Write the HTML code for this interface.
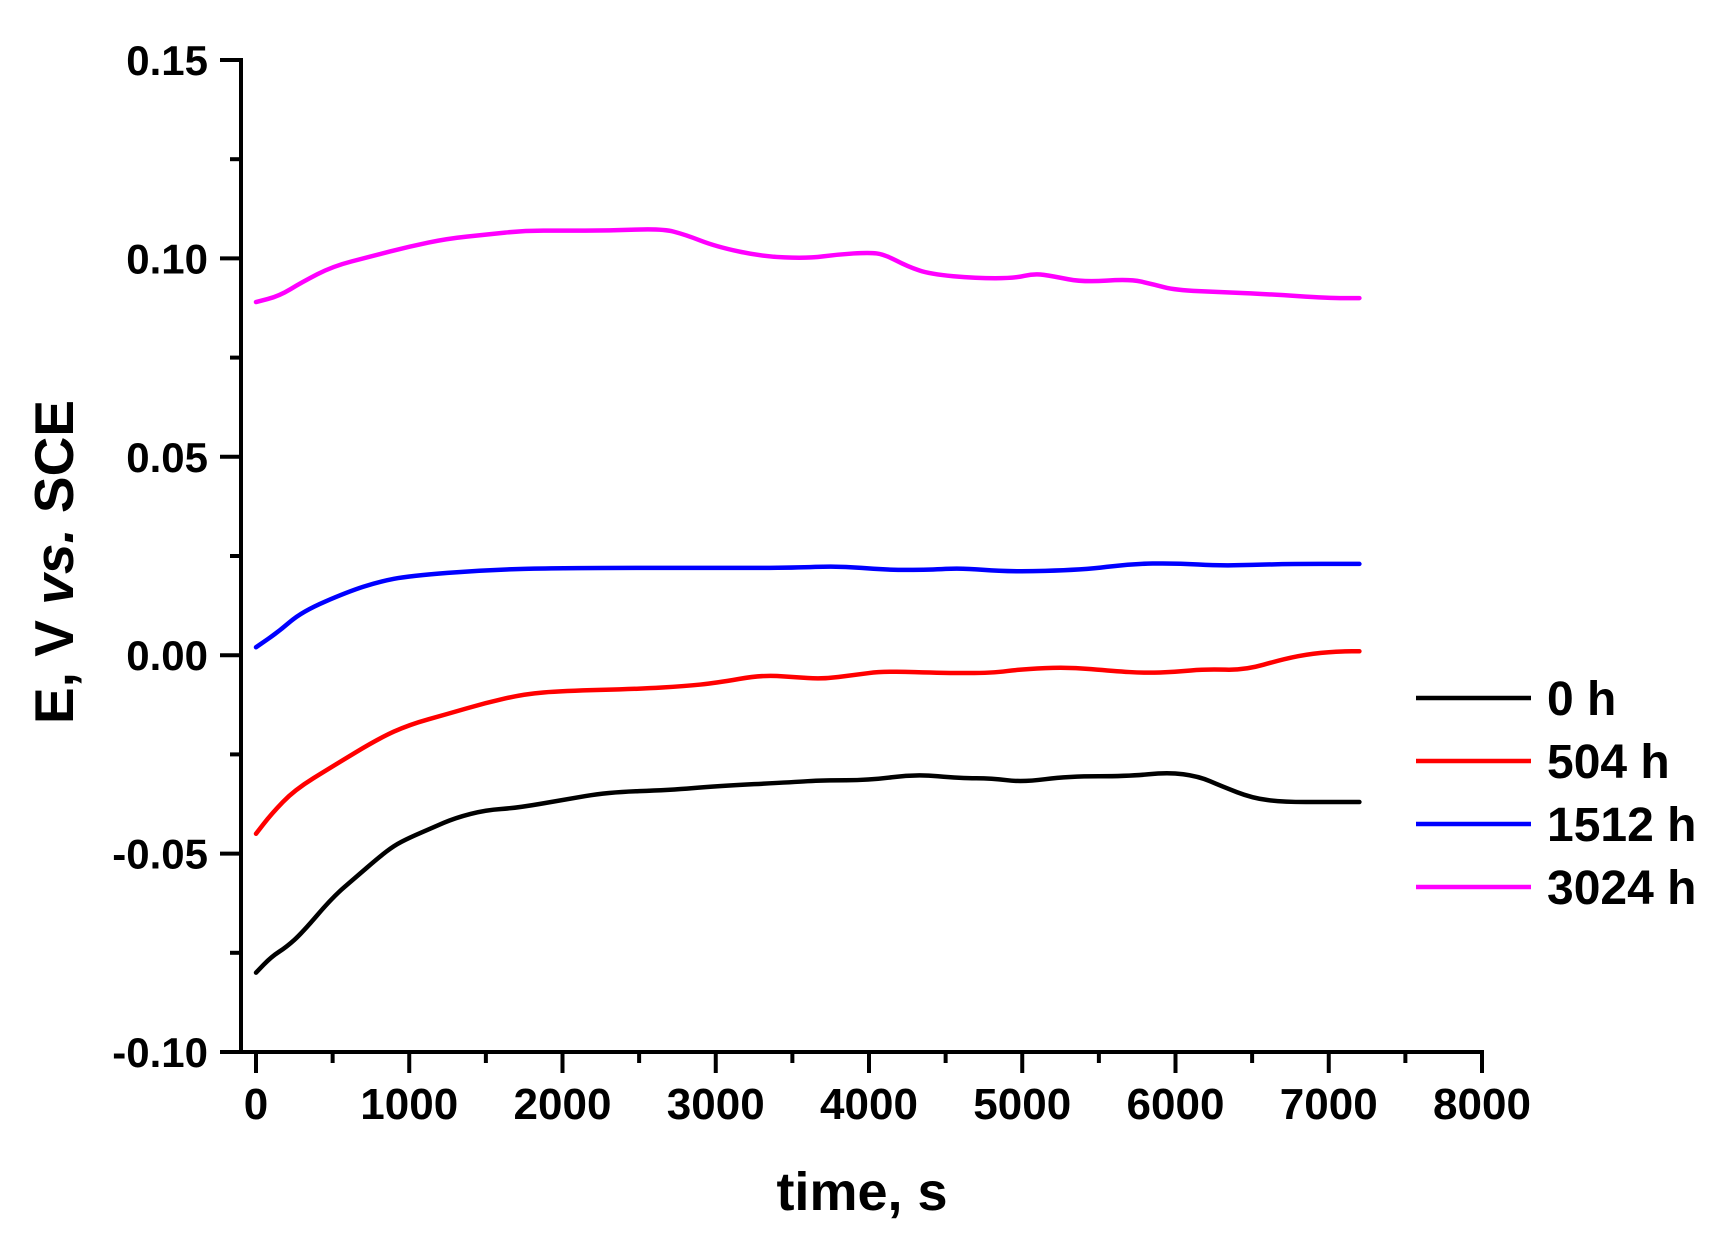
<!DOCTYPE html>
<html><head><meta charset="utf-8"><style>
html,body{margin:0;padding:0;background:#fff;}
svg{display:block;}
text{font-family:"Liberation Sans",Arial,sans-serif;font-weight:bold;fill:#000;}
</style></head><body>
<svg id="s" width="1721" height="1248" viewBox="0 0 1721 1248" xmlns="http://www.w3.org/2000/svg">
<g id="ax" stroke="#000" stroke-width="4" fill="none"></g>
<g id="lab"></g>
<g id="ser" fill="none" stroke-width="4.5" stroke-linejoin="round" stroke-linecap="round"></g>
<text x="862" y="1210" font-size="54" text-anchor="middle">time, s</text>
<text transform="translate(73,562) rotate(-90)" font-size="55" text-anchor="middle">E, V <tspan font-style="italic">vs.</tspan> SCE</text>
<g stroke-width="4.5">
<line x1="1416" y1="698" x2="1531" y2="698" stroke="#000"/>
<line x1="1416" y1="761" x2="1531" y2="761" stroke="#f00"/>
<line x1="1416" y1="824" x2="1531" y2="824" stroke="#00f"/>
<line x1="1416" y1="887" x2="1531" y2="887" stroke="#f0f"/>
</g>
<text x="1547" y="715" font-size="48">0 h</text>
<text x="1547" y="778" font-size="48">504 h</text>
<text x="1547" y="841" font-size="48">1512 h</text>
<text x="1547" y="904" font-size="48">3024 h</text>
</svg>
<script>
const NS="http://www.w3.org/2000/svg";
const X=t=>256+t/8000*1226, Y=v=>60+(0.15-v)/0.25*992;
function el(p,n,a){const e=document.createElementNS(NS,n);for(const k in a)e.setAttribute(k,a[k]);p.appendChild(e);return e;}
const ax=document.getElementById('ax'),lab=document.getElementById('lab'),ser=document.getElementById('ser');
el(ax,'line',{x1:241,y1:58,x2:241,y2:1052});
el(ax,'line',{x1:239,y1:1052,x2:1484,y2:1052});
for(let i=0;i<=10;i++){const v=0.15-i*0.025,y=Y(v),maj=i%2==0;
 el(ax,'line',{x1:maj?220:230,y1:y,x2:241,y2:y});
 if(maj){const t=el(lab,'text',{x:208,y:y+15,'font-size':42,'text-anchor':'end'});t.textContent=v.toFixed(2).replace('-0.00','0.00');}}
for(let i=0;i<=16;i++){const t=i*500,x=X(t),maj=i%2==0;
 el(ax,'line',{x1:x,y1:1052,x2:x,y2:maj?1073:1063});
 if(maj){const e=el(lab,'text',{x:x,y:1119,'font-size':44,'text-anchor':'middle'});e.textContent=t;}}
const D={
"#f0f":[[0,.089],[150,.0905],[300,.094],[500,.098],[750,.1005],[1000,.103],[1250,.105],[1500,.106],[1750,.107],[2000,.107],[2300,.107],[2650,.1075],[2800,.106],[3000,.103],[3300,.1005],[3600,.100],[3800,.101],[4000,.1015],[4100,.101],[4250,.098],[4400,.096],[4700,.095],[4950,.095],[5080,.0962],[5200,.0955],[5400,.094],[5700,.0948],[5850,.0935],[6000,.092],[6300,.0915],[6600,.091],[7000,.090],[7200,.090]],
"#00f":[[0,.002],[150,.006],[300,.011],[600,.016],[800,.0185],[1000,.020],[1500,.0215],[2000,.022],[3000,.022],[3500,.022],[3800,.0225],[4100,.0215],[4400,.0215],[4600,.022],[4900,.021],[5400,.0215],[5700,.023],[6000,.0232],[6300,.0225],[6700,.023],[7200,.023]],
"#f00":[[0,-.045],[100,-.040],[250,-.034],[500,-.028],[800,-.021],[1000,-.0175],[1250,-.0148],[1500,-.012],[1750,-.0098],[2000,-.009],[2500,-.0085],[2800,-.0078],[3000,-.007],[3300,-.005],[3500,-.0055],[3700,-.006],[3900,-.005],[4100,-.004],[4500,-.0045],[4800,-.0045],[5000,-.0035],[5300,-.003],[5600,-.004],[5800,-.0045],[6000,-.0042],[6200,-.0035],[6450,-.0038],[6700,-.001],[6900,.0005],[7100,.001],[7200,.001]],
"#000":[[0,-.080],[100,-.076],[200,-.0735],[300,-.070],[500,-.061],[650,-.056],[800,-.051],[900,-.048],[1000,-.046],[1150,-.0435],[1300,-.041],[1500,-.039],[1700,-.0385],[2000,-.0365],[2300,-.0345],[2700,-.034],[3000,-.033],[3500,-.032],[3700,-.0315],[4000,-.0315],[4300,-.030],[4600,-.031],[4800,-.031],[5000,-.032],[5300,-.0305],[5700,-.0305],[5950,-.0295],[6150,-.0305],[6300,-.033],[6500,-.036],[6700,-.037],[7000,-.037],[7200,-.037]]};
for(const c in D){const p=D[c];let d='M'+X(p[0][0])+','+Y(p[0][1]);
 for(let i=1;i<p.length;i++){const a=p[i-1],b=p[i];const mx=(X(a[0])+X(b[0]))/2;d+=` Q${X(a[0])},${Y(a[1])} ${mx},${(Y(a[1])+Y(b[1]))/2}`;}
 d+=` L${X(p[p.length-1][0])},${Y(p[p.length-1][1])}`;
 el(ser,'path',{d:d,stroke:c});}
</script>
</body></html>
